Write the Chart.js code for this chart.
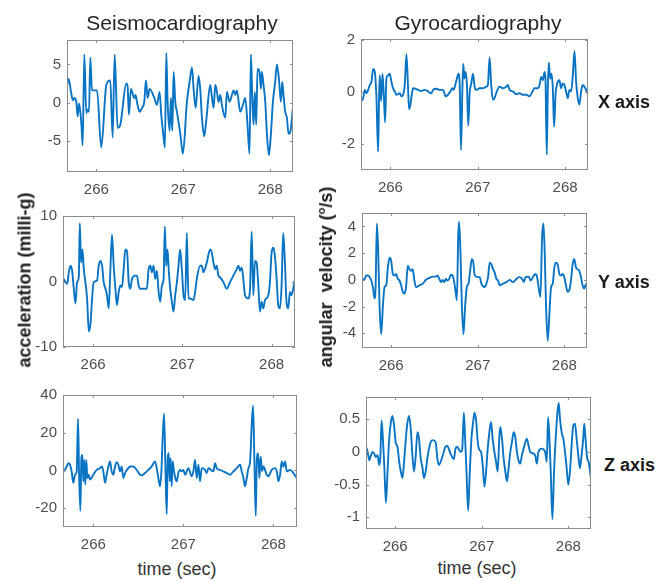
<!DOCTYPE html>
<html>
<head>
<meta charset="utf-8">
<script src="https://cdn.jsdelivr.net/npm/chart.js@4.4.1/dist/chart.umd.min.js"></script>
<style>
  body { margin: 0; background: #fff; }
  #fig { position: relative; width: 656px; height: 581px; font-family: "Liberation Sans", Arial, sans-serif; }
  canvas { position: absolute; }
  .txt { position: absolute; white-space: nowrap; color: #262626; }
  .title { font-size: 21px; transform: translate(-50%, -50%); }
  .xlab { font-size: 18px; transform: translate(-50%, -50%); color: #333; }
  .ylab { font-size: 18px; font-weight: bold; transform: translate(-50%, -50%) rotate(-90deg); color: #1a1a1a; }
  .side { font-size: 18px; font-weight: bold; transform: translateY(-50%); color: #1a1a1a; }
  sup { font-size: 11px; }
</style>
</head>
<body>
<div id="fig">
  <canvas id="scgX"></canvas>
  <canvas id="gcgX"></canvas>
  <canvas id="scgY"></canvas>
  <canvas id="gcgY"></canvas>
  <canvas id="scgZ"></canvas>
  <canvas id="gcgZ"></canvas>
  <div class="txt title" style="left:182px; top:23px;">Seismocardiography</div>
  <div class="txt title" style="left:478px; top:23px;">Gyrocardiography</div>
  <div class="txt ylab" style="left:25px; top:280px;">acceleration (milli-g)</div>
  <div class="txt ylab" style="left:326px; top:277px;">angular&nbsp; velocity (<sup>o</sup>/s)</div>
  <div class="txt side" style="left:598px; top:102px;">X axis</div>
  <div class="txt side" style="left:598px; top:282px;">Y axis</div>
  <div class="txt side" style="left:604px; top:465px;">Z axis</div>
  <div class="txt xlab" style="left:177px; top:569px;">time (sec)</div>
  <div class="txt xlab" style="left:477px; top:568px;">time (sec)</div>
</div>
<script>
// time ticks shared by all panels
const xTicks = [266, 267, 268];

// seismocardiography, X axis (milli-g)
const scgXTime = [265.663, 265.682, 265.709, 265.732, 265.747, 265.770, 265.785, 265.801, 265.816, 265.831,
  265.843, 265.862, 265.885, 265.900, 265.916, 265.931, 265.950, 266.008, 266.057, 266.115,
  266.161, 266.188, 266.211, 266.245, 266.276, 266.345, 266.360, 266.375, 266.398, 266.437,
  266.452, 266.467, 266.498, 266.525, 266.552, 266.571, 266.590, 266.613, 266.667, 266.697,
  266.728, 266.747, 266.766, 266.789, 266.805, 266.820, 266.843, 266.858, 266.874, 266.889,
  266.908, 266.927, 266.966, 266.996, 267.042, 267.073, 267.100, 267.119, 267.142, 267.176,
  267.195, 267.215, 267.241, 267.264, 267.310, 267.326, 267.349, 267.368, 267.387, 267.406,
  267.425, 267.444, 267.483, 267.502, 267.533, 267.579, 267.598, 267.617, 267.655, 267.686,
  267.713, 267.739, 267.762, 267.778, 267.793, 267.808, 267.824, 267.839, 267.854, 267.877,
  267.893, 267.904, 267.923, 267.943, 267.962, 267.985, 268.008, 268.031, 268.057, 268.077,
  268.100, 268.123, 268.138, 268.153, 268.172, 268.192, 268.211, 268.230, 268.261];
const scgXValue = [2.3, 3.1, 1.4, 0.3, 0.6, 0.1, -1.8, -0.1, -1.2, -3.3,
  -5.6, 6.3, -1.4, -0.9, -1.2, 5.9, 1.6, 1.6, -5.9, 2.3,
  2.9, -4.6, 6.3, -3.3, -2.9, 2.5, 2.1, -1.6, 1.8, 0.6,
  1.0, 0.1, -1.2, -0.7, 0.1, 2.9, 0.6, 1.8, 0.6, -0.3,
  1.4, -1.6, -3.7, -5.9, 6.5, 0.1, -3.7, 0.6, -3.7, 4.0,
  0.1, -1.2, -4.1, -6.7, 0.1, 2.7, 4.6, 1.8, -0.7, 3.5,
  1.8, -2.0, -4.4, -2.4, 2.3, 1.0, -0.7, 2.3, 1.4, 0.1,
  1.0, -0.3, -2.0, 1.4, 0.1, 1.6, 1.0, 1.6, -1.2, -0.3,
  0.6, -2.9, -6.7, 6.3, 1.0, -2.9, 1.4, -2.9, 4.4, 4.0,
  1.8, 4.0, 2.3, 0.1, -4.1, -6.9, -4.1, 0.1, 2.7, 5.0,
  3.1, 0.1, 2.7, 1.0, -1.2, -2.0, -4.1, -3.9, -0.7];

// gyrocardiography, X axis (deg/s)
const gcgXTime = [265.661, 265.688, 265.707, 265.726, 265.745, 265.764, 265.783, 265.802, 265.821, 265.840,
  265.859, 265.870, 265.878, 265.893, 265.909, 265.924, 265.939, 265.954, 265.973, 265.992,
  266.011, 266.030, 266.050, 266.069, 266.107, 266.126, 266.145, 266.164, 266.183, 266.202,
  266.213, 266.229, 266.244, 266.259, 266.316, 266.354, 266.392, 266.430, 266.469, 266.488,
  266.526, 266.564, 266.602, 266.632, 266.659, 266.686, 266.709, 266.724, 266.747, 266.762,
  266.777, 266.792, 266.808, 266.823, 266.834, 266.846, 266.861, 266.876, 266.891, 266.907,
  266.926, 266.945, 266.964, 266.983, 267.021, 267.059, 267.097, 267.116, 267.135, 267.154,
  267.173, 267.192, 267.211, 267.250, 267.288, 267.326, 267.345, 267.364, 267.402, 267.440,
  267.478, 267.516, 267.554, 267.592, 267.630, 267.650, 267.688, 267.707, 267.726, 267.745,
  267.764, 267.775, 267.790, 267.802, 267.813, 267.829, 267.844, 267.859, 267.874, 267.890,
  267.905, 267.935, 267.954, 267.973, 267.992, 268.011, 268.030, 268.050, 268.069, 268.088,
  268.107, 268.126, 268.145, 268.164, 268.183, 268.202, 268.221, 268.240, 268.259];
const gcgXValue = [-0.35, -0.23, 0.09, -0.04, 0.09, 0.28, 0.4, 0.9, 0.78, -0.23,
  -2.29, -0.1, 0.65, -0.35, 0.71, -0.1, -1.16, 0.53, 0.65, 0.71,
  0.4, 0.15, 0.03, -0.1, -0.04, -0.16, -0.1, 0.28, 1.46, 0.15,
  -0.66, -0.48, -0.1, 0.15, 0.09, 0.05, 0.09, 0.03, -0.04, 0.09,
  0.13, 0.09, 0.09, -0.16, -0.1, 0.03, 0.15, 0.09, 0.34, 0.53,
  0.71, 0.4, -2.23, 0.03, 1.09, 0.53, 0.78, 0.28, -1.29, -0.04,
  0.34, 0.71, 0.21, 0.09, 0.15, 0.15, 0.21, 0.28, 1.34, 0.28,
  -0.29, -0.23, -0.04, 0.21, 0.15, 0.21, 0.28, 0.09, 0.03, -0.08,
  -0.04, -0.1, -0.1, -0.16, 0.05, 0.15, 0.15, 0.28, 0.59, 0.46,
  0.78, 0.53, -2.41, 0.15, 1.15, 0.53, 0.71, 0.15, -1.33, -0.1,
  0.28, 0.46, 0.15, 0.34, 0.28, 0.03, -0.23, 0.09, 0.03, 0.65,
  1.59, 0.4, -0.23, -0.48, 0.03, 0.28, 0.21, 0.09, -0.04];

// seismocardiography, Y axis
const scgYTime = [265.672, 265.691, 265.710, 265.728, 265.747, 265.765, 265.784, 265.803, 265.821, 265.840,
  265.851, 265.866, 265.881, 265.896, 265.914, 265.933, 265.952, 265.970, 265.989, 266.007,
  266.045, 266.063, 266.082, 266.101, 266.119, 266.138, 266.156, 266.175, 266.194, 266.212,
  266.231, 266.250, 266.268, 266.287, 266.305, 266.324, 266.343, 266.361, 266.380, 266.399,
  266.417, 266.436, 266.473, 266.492, 266.510, 266.529, 266.603, 266.622, 266.641, 266.659,
  266.678, 266.696, 266.715, 266.734, 266.752, 266.771, 266.790, 266.804, 266.819, 266.834,
  266.849, 266.864, 266.883, 266.901, 266.920, 266.939, 266.957, 266.976, 266.994, 267.013,
  267.032, 267.050, 267.069, 267.088, 267.125, 267.143, 267.162, 267.199, 267.218, 267.236,
  267.274, 267.311, 267.330, 267.348, 267.367, 267.385, 267.404, 267.423, 267.460, 267.497,
  267.534, 267.572, 267.609, 267.628, 267.646, 267.665, 267.683, 267.702, 267.739, 267.758,
  267.777, 267.795, 267.814, 267.832, 267.851, 267.870, 267.888, 267.907, 267.926, 267.963,
  267.981, 268.000, 268.019, 268.037, 268.056, 268.074, 268.093, 268.112, 268.130, 268.149,
  268.168, 268.186, 268.205, 268.223, 268.242, 268.261];
const scgYValue = [0.4, -0.1, -0.35, 1.4, 2.4, 1.65, -1.1, -3.35, -0.1, 0.65,
  8.9, 2.9, 4.9, 1.9, -0.1, -2.6, -7.6, -6.6, -2.6, -0.1,
  0.15, 2.4, 3.15, 2.4, -0.1, -1.1, -2.1, -4.1, 1.9, 7.15,
  2.4, -1.1, -3.6, -1.6, -0.6, -0.85, 1.9, 4.9, 4.65, -0.1,
  -1.1, 0.4, 0.9, 0.9, -0.6, -1.1, -1.1, 1.9, 2.4, 1.4,
  2.4, 0.4, 1.65, -1.6, -3.1, -0.6, 0.4, 8.4, 2.4, 4.9,
  1.4, -1.1, -3.1, -4.6, -2.1, -0.1, 2.4, 4.9, 1.9, -2.1,
  -2.85, 7.4, -2.6, -2.6, -2.85, -1.6, 0.4, 2.4, 2.4, 1.4,
  2.9, 4.9, 4.4, 2.9, 1.9, 2.4, 0.9, 0.65, -0.1, -1.1,
  -0.1, 0.9, 1.9, 2.4, 1.65, 2.15, 0.4, -2.1, -2.6, -1.1,
  7.65, -2.1, 3.15, 2.9, -0.6, -4.6, -3.1, -4.1, -2.85, -2.1,
  -0.1, 4.4, 5.15, 3.9, 0.4, -3.6, -4.1, -0.6, 7.4, 2.9,
  -3.35, -4.1, -1.6, -2.1, -1.1, 0.4];

// gyrocardiography, Y axis
const gcgYTime = [265.663, 265.693, 265.713, 265.732, 265.751, 265.770, 265.789, 265.808, 265.820, 265.835,
  265.851, 265.866, 265.885, 265.904, 265.923, 265.943, 265.962, 265.981, 266.000, 266.019,
  266.038, 266.057, 266.077, 266.096, 266.115, 266.134, 266.153, 266.172, 266.192, 266.211,
  266.230, 266.249, 266.268, 266.287, 266.326, 266.364, 266.402, 266.441, 266.479, 266.517,
  266.536, 266.556, 266.575, 266.594, 266.613, 266.632, 266.651, 266.670, 266.690, 266.709,
  266.728, 266.747, 266.759, 266.774, 266.785, 266.801, 266.816, 266.835, 266.854, 266.874,
  266.893, 266.912, 266.931, 266.946, 266.966, 267.004, 267.023, 267.042, 267.080, 267.100,
  267.119, 267.138, 267.157, 267.176, 267.195, 267.215, 267.234, 267.253, 267.291, 267.330,
  267.368, 267.406, 267.437, 267.475, 267.513, 267.533, 267.552, 267.590, 267.609, 267.648,
  267.667, 267.686, 267.705, 267.724, 267.743, 267.759, 267.774, 267.789, 267.808, 267.828,
  267.847, 267.866, 267.885, 267.904, 267.923, 267.943, 267.962, 267.981, 268.000, 268.019,
  268.038, 268.057, 268.077, 268.096, 268.115, 268.134, 268.153, 268.172, 268.192, 268.211,
  268.230, 268.249];
const gcgYValue = [-0.05, 0.07, 0.32, 0.32, 0.2, -0.05, -0.54, -1.39, -0.54, 4.22,
  1.9, -2.0, -4.07, -2.0, -0.54, -0.41, 0.93, 1.66, 1.41, 0.44,
  0.32, 0.44, 0.07, -0.05, -0.41, -0.9, -1.02, -0.54, 1.05, 0.8,
  0.68, 0.8, -0.05, -0.54, -0.41, -0.29, 0, 0.15, 0.24, 0.24,
  0.32, 0.07, -0.17, 0, -0.17, 0.07, -0.05, 0.07, 0.39, 0.32,
  -0.17, -1.02, -1.51, 3.12, 4.34, 1.9, -1.76, -4.07, -2.0, -0.54,
  -0.29, 0.68, 1.54, 1.41, 0.32, 0.2, 0.2, -0.29, -0.54, -0.29,
  0.2, 1.29, 1.17, 0.8, 0.56, 0.07, -0.05, -0.41, -0.29, -0.17,
  0, -0.17, 0, 0.2, 0.07, -0.17, 0.2, 0.24, -0.05, 0.32,
  0.44, 0.2, -0.66, -1.27, 3.12, 4.22, 1.9, -2.0, -4.56, -2.49,
  -0.54, -0.29, 0.93, 1.29, 1.17, 0.44, 0.32, 0.44, 0.2, -0.41,
  -0.9, -0.78, -0.05, 1.17, 1.54, 0.93, 0.8, 0.68, 0.2, -0.41,
  -0.66, -0.29];

// seismocardiography, Z axis
const scgZTime = [265.667, 265.685, 265.704, 265.722, 265.741, 265.759, 265.778, 265.796, 265.815, 265.830,
  265.841, 265.856, 265.867, 265.878, 265.889, 265.900, 265.911, 265.922, 265.933, 265.948,
  265.963, 266.000, 266.037, 266.074, 266.093, 266.111, 266.130, 266.148, 266.167, 266.185,
  266.204, 266.222, 266.241, 266.259, 266.278, 266.296, 266.315, 266.333, 266.352, 266.389,
  266.407, 266.444, 266.481, 266.519, 266.537, 266.574, 266.611, 266.648, 266.685, 266.704,
  266.722, 266.741, 266.756, 266.770, 266.785, 266.800, 266.815, 266.826, 266.837, 266.848,
  266.859, 266.870, 266.881, 266.896, 266.911, 266.926, 266.944, 266.963, 266.981, 267.000,
  267.019, 267.056, 267.093, 267.111, 267.130, 267.148, 267.167, 267.185, 267.204, 267.241,
  267.259, 267.278, 267.333, 267.352, 267.370, 267.407, 267.481, 267.519, 267.556, 267.593,
  267.630, 267.648, 267.667, 267.685, 267.704, 267.722, 267.741, 267.759, 267.774, 267.789,
  267.804, 267.815, 267.830, 267.844, 267.859, 267.874, 267.889, 267.926, 267.944, 267.981,
  268.019, 268.037, 268.056, 268.074, 268.093, 268.111, 268.130, 268.148, 268.185, 268.222,
  268.259];
const scgZValue = [-0.5, 0.3, 2.1, 3.8, 3.0, -0.5, -6.6, -2.3, -0.5, 27.4,
  -0.5, -21.5, 6.5, 8.2, -5.8, 5.6, -7.5, 5.6, -4.0, -2.3,
  -4.9, -2.3, 0.3, 1.2, 2.1, -0.5, -6.6, -2.3, 2.1, 4.7,
  -0.5, -2.3, 2.1, 4.4, 3.0, -0.5, 2.1, -4.0, -1.4, 1.2,
  2.1, 2.1, 0.3, -2.3, -2.6, -1.4, 0.3, 2.1, 4.7, 1.2,
  -4.0, -8.4, -0.5, 17.0, 30.1, 3.0, -23.3, 6.5, 9.1, -5.8,
  6.5, -8.4, 4.7, -0.5, -4.0, -5.8, -1.4, 0.3, -0.5, 0.3,
  -2.3, 1.2, -3.1, -0.5, 5.6, -4.0, 3.0, -5.8, 1.2, 0.3,
  -1.4, 1.2, -0.5, 3.8, 1.2, 0.3, -1.4, -2.3, -0.5, 1.2,
  3.0, -0.5, -4.0, -8.4, -4.0, 1.2, 4.7, 24.0, 34.4, 4.7,
  -24.1, 4.7, 9.1, -4.0, 7.3, -0.5, 2.1, -2.3, -3.1, 0.3,
  1.2, -0.5, -5.8, -2.3, 4.7, 2.1, 4.7, -0.5, 0.3, -1.4,
  -4.0];

// gyrocardiography, Z axis
const gcgZTime = [265.663, 265.682, 265.701, 265.720, 265.739, 265.759, 265.778, 265.797, 265.816, 265.828,
  265.843, 265.858, 265.874, 265.893, 265.912, 265.931, 265.950, 265.969, 265.989, 266.008,
  266.027, 266.046, 266.065, 266.084, 266.103, 266.123, 266.142, 266.161, 266.180, 266.199,
  266.218, 266.238, 266.257, 266.276, 266.295, 266.314, 266.333, 266.352, 266.372, 266.391,
  266.410, 266.429, 266.467, 266.487, 266.506, 266.544, 266.582, 266.602, 266.640, 266.678,
  266.697, 266.716, 266.755, 266.774, 266.793, 266.808, 266.824, 266.843, 266.862, 266.881,
  266.900, 266.916, 266.935, 266.954, 266.973, 266.992, 267.011, 267.031, 267.050, 267.069,
  267.088, 267.107, 267.126, 267.146, 267.165, 267.184, 267.203, 267.215, 267.234, 267.253,
  267.272, 267.291, 267.310, 267.330, 267.349, 267.368, 267.387, 267.406, 267.425, 267.444,
  267.464, 267.483, 267.521, 267.540, 267.559, 267.617, 267.636, 267.655, 267.693, 267.732,
  267.751, 267.766, 267.782, 267.797, 267.816, 267.835, 267.854, 267.874, 267.889, 267.904,
  267.923, 267.943, 267.962, 267.981, 268.000, 268.019, 268.038, 268.057, 268.077, 268.096,
  268.115, 268.134, 268.153, 268.172, 268.184, 268.199, 268.218, 268.234, 268.261];
const gcgZValue = [0.08, 0, -0.13, -0.05, 0, -0.03, -0.08, -0.05, -0.2, -0.1,
  0.48, 0.2, -0.2, -0.78, -0.3, 0.2, 0.45, 0.55, 0.38, 0.13,
  0.08, -0.15, -0.3, -0.4, -0.15, 0.2, 0.45, 0.55, 0.35, -0.05,
  -0.3, -0.05, 0.3, 0.2, -0.1, -0.23, -0.4, -0.3, -0.1, 0.05,
  0.15, 0.18, 0.15, -0.1, -0.2, -0.08, 0.08, 0.09, -0.03, -0.11,
  0.05, 0.08, 0, 0.03, 0.6, 0.2, -0.3, -0.9, -0.3, 0.2,
  0.45, 0.6, 0.48, 0.15, 0.03, 0, -0.2, -0.53, -0.3, 0.05,
  0.3, 0.46, 0.2, 0, -0.15, -0.3, 0.23, 0.38, 0.2, -0.1,
  -0.3, -0.45, -0.25, 0, 0.15, 0.3, 0.23, 0, -0.13, -0.18,
  -0.05, 0.05, 0.2, 0.1, 0, -0.05, -0.18, 0, 0.05, 0,
  -0.15, 0.53, 0.2, -0.3, -1.03, -0.3, 0.2, 0.6, 0.75, 0.5,
  0.3, 0.2, 0, -0.25, -0.5, -0.3, 0.1, 0.4, 0.43, 0.2,
  -0.05, -0.25, -0.05, 0.2, 0.43, 0.2, -0.1, -0.15, -0.4];

// y tick values per panel
const scgXTicks = [-5, 0, 5];
const gcgXTicks = [-2, 0, 2];
const scgYTicks = [-10, 0, 10];
const gcgYTicks = [-4, -2, 0, 2, 4];
const scgZTicks = [-20, 0, 20, 40];
const gcgZTicks = [-1, -0.5, 0, 0.5];

const lineBlue = "#0a74c4";
const axisGrey = "#8c8c8c";
const tickText = "#4d4d4d";
const padTop = 12, padRight = 12, yAxisW = 50, xAxisH = 28;

// box round the plot area with small inward ticks, as in matlab
const matlabBox = {
  id: "matlabBox",
  afterDraw(chart) {
    const { ctx, chartArea: a, scales } = chart;
    ctx.save();
    ctx.strokeStyle = axisGrey;
    ctx.lineWidth = 1;
    ctx.strokeRect(Math.round(a.left) + 0.5, Math.round(a.top) + 0.5,
      Math.round(a.width) - 1, Math.round(a.height) - 1);
    ctx.beginPath();
    scales.x.ticks.forEach((t) => {
      const px = Math.round(scales.x.getPixelForValue(t.value)) + 0.5;
      ctx.moveTo(px, a.top); ctx.lineTo(px, a.top + 3);
      ctx.moveTo(px, a.bottom); ctx.lineTo(px, a.bottom - 3);
    });
    scales.y.ticks.forEach((t) => {
      const py = Math.round(scales.y.getPixelForValue(t.value)) + 0.5;
      ctx.moveTo(a.left, py); ctx.lineTo(a.left + 3, py);
      ctx.moveTo(a.right, py); ctx.lineTo(a.right - 3, py);
    });
    ctx.stroke();
    ctx.restore();
  },
};

function drawPanel(id, box, times, values, yMin, yMax, yTicks) {
  const [left, top, right, bottom] = box;
  const canvas = document.getElementById(id);
  canvas.width = right - left + yAxisW + padRight;
  canvas.height = bottom - top + padTop + xAxisH;
  canvas.style.left = (left - yAxisW) + "px";
  canvas.style.top = (top - padTop) + "px";

  const points = times.map((t, i) => ({ x: t, y: values[i] }));
  const tickFont = { family: "'Liberation Sans', Arial, sans-serif", size: 15 };

  new Chart(canvas, {
    type: "line",
    data: {
      datasets: [{
        data: points,
        borderColor: lineBlue,
        borderWidth: 1.9,
        pointRadius: 0,
        cubicInterpolationMode: "monotone",
        fill: false,
      }],
    },
    options: {
      responsive: false,
      animation: false,
      events: [],
      layout: { padding: { top: padTop, right: padRight, left: 0, bottom: 0 } },
      plugins: { legend: { display: false }, tooltip: { enabled: false } },
      scales: {
        x: {
          type: "linear",
          min: 265.663,
          max: 268.262,
          grid: { display: false, drawTicks: false },
          border: { display: false },
          afterBuildTicks: (axis) => { axis.ticks = xTicks.map((v) => ({ value: v })); },
          afterFit: (axis) => { axis.height = xAxisH; },
          ticks: { color: tickText, font: tickFont, padding: 9, maxRotation: 0 },
        },
        y: {
          min: yMin,
          max: yMax,
          grid: { display: false, drawTicks: false },
          border: { display: false },
          afterBuildTicks: (axis) => { axis.ticks = yTicks.map((v) => ({ value: v })); },
          afterFit: (axis) => { axis.width = yAxisW; },
          ticks: { color: tickText, font: tickFont, padding: 6, callback: (v) => String(v) },
        },
      },
    },
    plugins: [matlabBox],
  });
}

drawPanel("scgX", [67, 37, 293, 172], scgXTime, scgXValue, -9.1, 8.2, scgXTicks);
drawPanel("gcgX", [361, 36, 588, 170], gcgXTime, gcgXValue, -3, 2.05, gcgXTicks);
drawPanel("scgY", [63, 213, 295, 347], scgYTime, scgYValue, -10, 10, scgYTicks);
drawPanel("gcgY", [362, 210, 587, 348], gcgYTime, gcgYValue, -5.1, 5, gcgYTicks);
drawPanel("scgZ", [63, 392, 297, 527], scgZTime, scgZValue, -30, 40, scgZTicks);
drawPanel("gcgZ", [366, 394, 591, 529], gcgZTime, gcgZValue, -1.18, 0.84, gcgZTicks);
</script>
</body>
</html>
